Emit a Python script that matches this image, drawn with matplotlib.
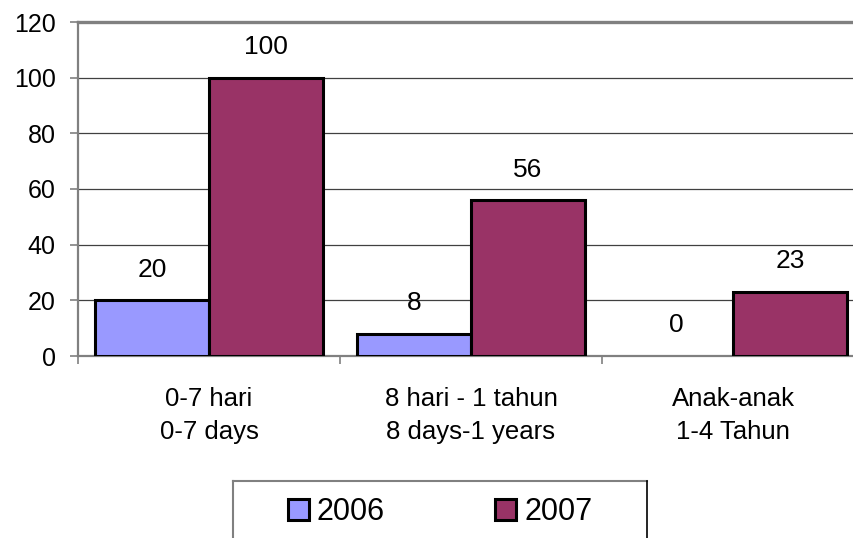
import matplotlib
matplotlib.use("Agg")
import matplotlib.pyplot as plt
import numpy as np
from matplotlib.lines import Line2D

plt.rcParams['font.family'] = ['Liberation Sans', 'DejaVu Sans']

categories = ['0-7 hari\n0-7 days', '8 hari - 1 tahun\n8 days-1 years', 'Anak-anak\n1-4 Tahun']
series_names = ['2006', '2007']
values_2006 = [20, 8, 0]
values_2007 = [100, 56, 23]
colors = ['#9999FF', '#993366']
yticks = [0, 20, 40, 60, 80, 100, 120]

W, H = 854, 538
fig = plt.figure(figsize=(W / 100, H / 100), dpi=100)
# plot area runs past the right edge of the picture
ax = fig.add_axes([78 / W, 1 - 356 / H, 786 / W, 334 / H])

x = np.arange(len(categories))
bw = 114 / 262
for i, (vals, name) in enumerate([(values_2006, series_names[0]), (values_2007, series_names[1])]):
    offs = (i - 0.5) * bw
    lws = [2.2 if v > 0 else 0 for v in vals]
    ax.bar(x + offs, vals, width=bw, color=colors[i], edgecolor='black',
           linewidth=lws, label=name, zorder=3)
    for xi, v in zip(x + offs, vals):
        ax.annotate(str(v), xy=(xi, v), xytext=(0, 22), textcoords='offset points',
                    ha='center', va='center', fontsize=19)

ax.set_xlim(-0.5, 2.5)
ax.set_ylim(0, 120)
ax.set_yticks(yticks)
ax.yaxis.grid(True, color='#404040', linewidth=0.9, zorder=0)
ax.tick_params(axis='y', labelsize=18, length=6, width=1.2, color='#808080', pad=10)

ax.set_xticks(x)
ax.set_xticklabels(categories, fontsize=18.5, linespacing=1.5)
ax.set_xticks([-0.5, 0.5, 1.5, 2.5], minor=True)
ax.tick_params(axis='x', which='major', length=0, pad=22)
ax.tick_params(axis='x', which='minor', length=6, width=1.2, color='#808080')

for s in ['left', 'bottom']:
    ax.spines[s].set_color('#808080')
    ax.spines[s].set_linewidth(1.6)
ax.spines['top'].set_color('#808080')
ax.spines['top'].set_linewidth(2.4)
ax.spines['right'].set_visible(False)

# legend box, cut off at the bottom of the picture
x0, x1, y0 = 233 / W, 647 / W, 1 - 481 / H
fig.add_artist(Line2D([x0, x1], [y0, y0], color='#808080', lw=1.5, transform=fig.transFigure))
fig.add_artist(Line2D([x0, x0], [y0, -0.05], color='#808080', lw=1.5, transform=fig.transFigure))
fig.add_artist(Line2D([x1, x1], [y0, -0.05], color='black', lw=1.2, transform=fig.transFigure))
fig.legend(loc='center', bbox_to_anchor=(440 / W, 1 - 512 / H), ncol=2, frameon=False,
           fontsize=22, handlelength=0.7, handleheight=0.7, handletextpad=0.25,
           columnspacing=3.6)

fig.savefig('out.png', dpi=100)
